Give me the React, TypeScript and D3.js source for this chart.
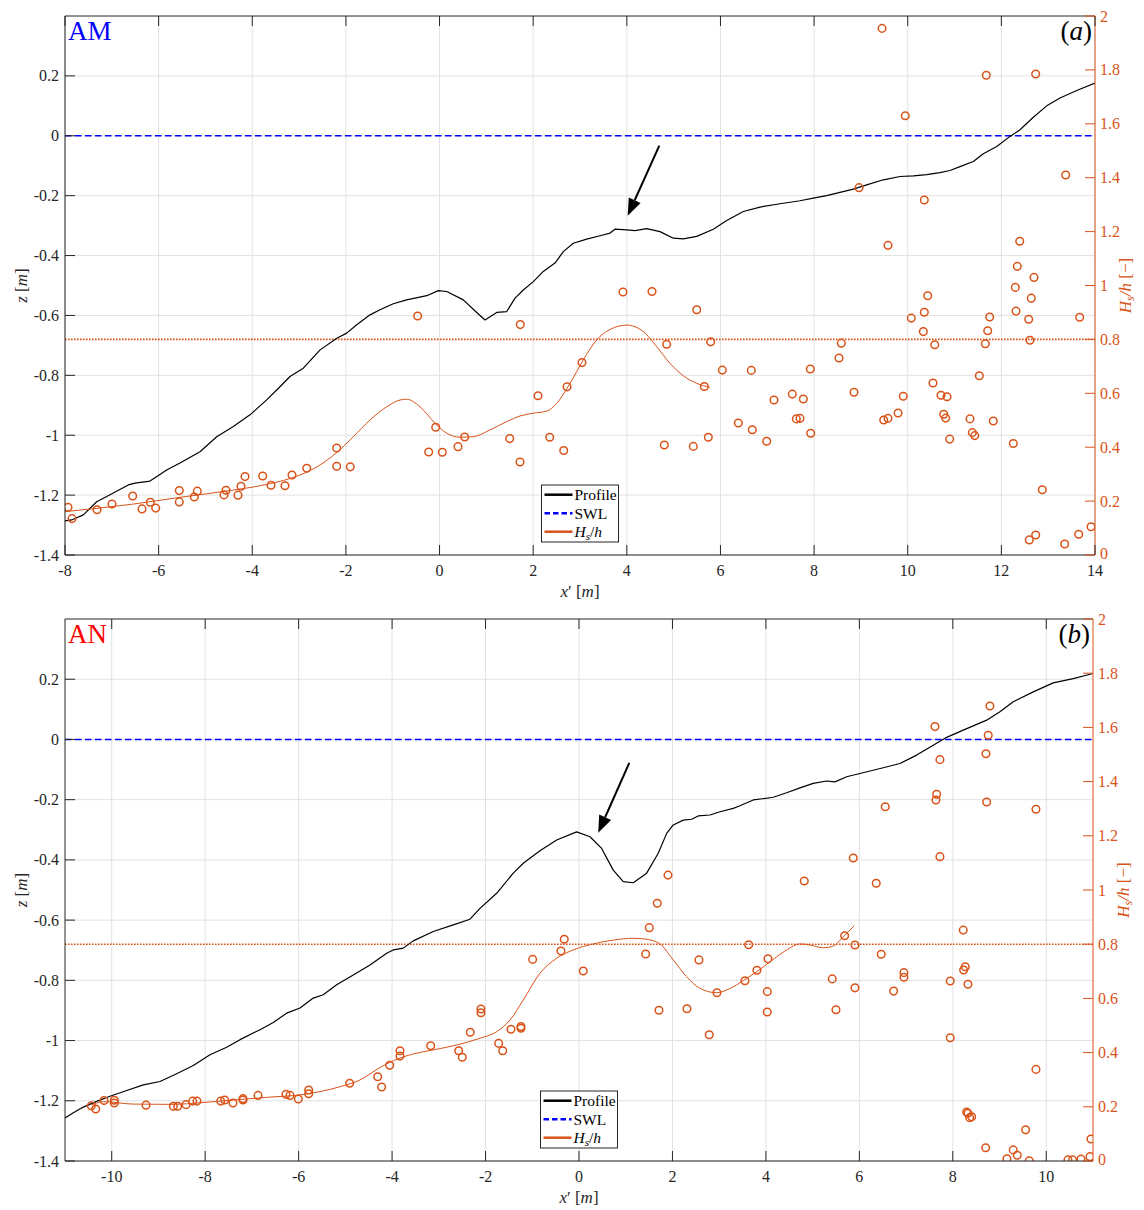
import React from "react";
import * as d3 from "d3";

type P = [number, number];

// ---------- Panel (a): AM ----------
const amProfile: P[] = [
  [-8, -1.286], [-7.857, -1.283], [-7.609, -1.266], [-7.323, -1.222], [-7.039, -1.199], [-6.648, -1.166],
  [-6.505, -1.16], [-6.184, -1.153], [-5.828, -1.116], [-5.544, -1.093], [-5.116, -1.055], [-4.76, -1.005],
  [-4.405, -0.971], [-4.049, -0.932], [-3.692, -0.882], [-3.408, -0.838], [-3.194, -0.804], [-2.91, -0.776],
  [-2.551, -0.715], [-2.195, -0.676], [-1.983, -0.659], [-1.769, -0.631], [-1.485, -0.598], [-1.272, -0.581],
  [-0.988, -0.561], [-0.702, -0.548], [-0.274, -0.534], [-0.026, -0.517], [0.153, -0.52], [0.508, -0.548],
  [0.794, -0.59], [0.971, -0.615], [1.221, -0.59], [1.435, -0.587], [1.612, -0.542], [1.789, -0.515],
  [2.003, -0.487], [2.216, -0.453], [2.466, -0.425], [2.643, -0.387], [2.857, -0.359], [3.143, -0.345],
  [3.427, -0.334], [3.641, -0.325], [3.748, -0.312], [3.998, -0.314], [4.175, -0.317], [4.425, -0.31],
  [4.709, -0.32], [4.993, -0.342], [5.207, -0.344], [5.493, -0.336], [5.847, -0.312], [6.134, -0.283],
  [6.488, -0.253], [6.845, -0.238], [7.272, -0.227], [7.699, -0.217], [7.983, -0.208], [8.269, -0.2],
  [8.553, -0.189], [8.837, -0.178], [9.124, -0.164], [9.478, -0.147], [9.835, -0.136], [10.119, -0.134],
  [10.405, -0.13], [10.689, -0.123], [10.903, -0.116], [11.117, -0.103], [11.401, -0.086], [11.614, -0.06],
  [11.901, -0.036], [12.185, -0.002], [12.398, 0.02], [12.683, 0.062], [12.969, 0.1], [13.253, 0.126],
  [13.61, 0.151], [14.0, 0.176],
];

const amHsLine: P[] = [
  [-8, 0.161], [-6.541, 0.189], [-5.544, 0.214], [-4.405, 0.241], [-3.692, 0.262], [-2.98, 0.297],
  [-2.553, 0.334], [-2.197, 0.38], [-1.842, 0.439], [-1.485, 0.501], [-1.129, 0.55], [-0.845, 0.575],
  [-0.702, 0.578], [-0.417, 0.55], [-0.097, 0.489], [0.153, 0.452], [0.437, 0.437], [0.721, 0.439],
  [1.078, 0.464], [1.435, 0.495], [1.719, 0.516], [2.003, 0.526], [2.289, 0.534], [2.503, 0.563],
  [2.787, 0.637], [3.071, 0.724], [3.357, 0.798], [3.641, 0.837], [3.998, 0.853], [4.352, 0.829],
  [4.638, 0.773], [4.922, 0.711], [5.207, 0.665], [5.493, 0.637], [5.777, 0.622],
];

const amHsPoints: P[] = [
  [-7.936, 0.177], [-7.85, 0.135], [-7.316, 0.168], [-6.996, 0.189], [-6.554, 0.219], [-6.355, 0.171],
  [-6.178, 0.196], [-6.063, 0.174], [-5.559, 0.239], [-5.559, 0.197], [-5.238, 0.215], [-5.174, 0.237],
  [-4.604, 0.223], [-4.561, 0.24], [-4.305, 0.222], [-4.241, 0.255], [-4.155, 0.291], [-3.777, 0.293],
  [-3.6, 0.259], [-3.301, 0.257], [-3.151, 0.297], [-2.837, 0.322], [-2.197, 0.397], [-2.197, 0.329],
  [-1.906, 0.327], [-0.467, 0.887], [-0.232, 0.382], [-0.082, 0.474], [0.059, 0.381], [0.394, 0.402],
  [0.537, 0.438], [1.499, 0.432], [1.725, 0.855], [1.719, 0.345], [2.103, 0.591], [2.353, 0.437],
  [2.652, 0.388], [2.723, 0.624], [3.043, 0.714], [3.918, 0.976], [4.538, 0.978], [4.801, 0.408],
  [4.852, 0.782], [5.42, 0.403], [5.493, 0.91], [5.655, 0.625], [5.741, 0.437], [5.792, 0.791],
  [6.04, 0.686], [6.381, 0.49], [6.659, 0.685], [6.68, 0.465], [6.988, 0.422], [7.144, 0.575],
  [7.535, 0.597], [7.62, 0.505], [7.699, 0.507], [7.77, 0.579], [7.919, 0.69], [7.928, 0.452],
  [8.532, 0.731], [8.581, 0.786], [8.853, 0.604], [8.96, 1.363], [9.451, 1.954], [9.487, 0.501],
  [9.579, 0.507], [9.579, 1.149], [9.793, 0.527], [9.905, 0.589], [9.948, 1.63], [10.076, 0.879],
  [10.354, 0.901], [10.333, 0.829], [10.354, 1.317], [10.427, 0.962], [10.54, 0.638], [10.577, 0.78],
  [10.711, 0.593], [10.769, 0.522], [10.811, 0.508], [10.839, 0.587], [10.897, 0.43], [11.33, 0.505],
  [11.38, 0.454], [11.431, 0.443], [11.529, 0.665], [11.657, 0.784], [11.678, 1.78], [11.708, 0.832],
  [11.751, 0.883], [11.828, 0.497], [12.255, 0.414], [12.298, 0.993], [12.313, 0.905], [12.341, 1.071],
  [12.392, 1.164], [12.584, 0.875], [12.611, 0.797], [12.639, 0.953], [12.697, 1.03], [12.733, 1.785],
  [12.597, 0.056], [12.733, 0.074], [12.874, 0.242], [13.353, 0.041], [13.374, 1.41], [13.652, 0.077],
  [13.673, 0.882], [13.915, 0.105],
];

const amArrow: P[] = [[4.694, -0.033], [4.019, -0.267]];

// ---------- Panel (b): AN ----------
const anProfile: P[] = [
  [-11, -1.257], [-10.822, -1.24], [-10.608, -1.221], [-10.322, -1.202], [-10.037, -1.185], [-9.68, -1.166],
  [-9.324, -1.147], [-8.967, -1.136], [-8.61, -1.11], [-8.254, -1.083], [-7.897, -1.047], [-7.54, -1.022],
  [-7.255, -0.997], [-6.827, -0.964], [-6.543, -0.94], [-6.256, -0.909], [-5.971, -0.892], [-5.687, -0.859],
  [-5.473, -0.848], [-5.186, -0.815], [-4.831, -0.782], [-4.473, -0.749], [-4.116, -0.71], [-3.975, -0.699],
  [-3.761, -0.693], [-3.547, -0.669], [-3.119, -0.638], [-2.69, -0.616], [-2.333, -0.597], [-2.119, -0.561],
  [-1.762, -0.511], [-1.407, -0.444], [-1.193, -0.411], [-0.835, -0.37], [-0.478, -0.334], [-0.05, -0.307],
  [0.235, -0.323], [0.485, -0.362], [0.733, -0.434], [0.947, -0.472], [1.161, -0.476], [1.448, -0.444],
  [1.696, -0.378], [1.876, -0.312], [2.017, -0.284], [2.231, -0.268], [2.411, -0.265], [2.552, -0.254],
  [2.803, -0.251], [3.017, -0.24], [3.301, -0.229], [3.445, -0.22], [3.729, -0.201], [4.157, -0.192],
  [4.444, -0.177], [4.728, -0.161], [5.013, -0.146], [5.3, -0.138], [5.477, -0.141], [5.728, -0.124],
  [6.012, -0.113], [6.511, -0.094], [6.868, -0.08], [7.226, -0.052], [7.581, -0.019], [7.868, 0.007],
  [8.223, 0.031], [8.724, 0.064], [9.008, 0.092], [9.293, 0.125], [9.721, 0.158], [10.149, 0.188],
  [10.577, 0.202], [11.0, 0.219],
];

const anHsLine: P[] = [
  [-10.429, 0.207], [-10.18, 0.219], [-9.538, 0.21], [-8.682, 0.209], [-8.111, 0.215], [-7.398, 0.225],
  [-6.684, 0.235], [-5.971, 0.244], [-5.543, 0.256], [-5.115, 0.274], [-4.687, 0.299], [-4.259, 0.345],
  [-3.975, 0.37], [-3.547, 0.395], [-3.119, 0.41], [-2.618, 0.428], [-2.119, 0.453], [-1.762, 0.477],
  [-1.477, 0.52], [-1.193, 0.594], [-0.835, 0.693], [-0.478, 0.748], [-0.122, 0.779], [0.305, 0.801],
  [0.733, 0.815], [1.161, 0.822], [1.448, 0.818], [1.733, 0.801], [2.017, 0.742], [2.304, 0.68],
  [2.589, 0.637], [2.946, 0.621], [3.301, 0.643], [3.588, 0.674], [3.873, 0.707], [4.157, 0.744],
  [4.444, 0.779], [4.728, 0.801], [4.943, 0.797], [5.227, 0.787], [5.441, 0.793], [5.655, 0.828],
  [5.891, 0.868],
];

const anHsPoints: P[] = [
  [-10.437, 0.204], [-10.343, 0.192], [-10.165, 0.223], [-9.945, 0.224], [-9.945, 0.214], [-9.267, 0.206],
  [-8.682, 0.202], [-8.588, 0.202], [-8.411, 0.208], [-8.267, 0.221], [-8.175, 0.221], [-7.668, 0.221],
  [-7.582, 0.225], [-7.405, 0.214], [-7.191, 0.23], [-7.191, 0.225], [-6.87, 0.242], [-6.271, 0.246],
  [-6.185, 0.242], [-6.007, 0.229], [-5.785, 0.262], [-5.785, 0.248], [-4.908, 0.287], [-4.308, 0.311],
  [-4.223, 0.273], [-4.052, 0.353], [-3.831, 0.407], [-3.831, 0.387], [-3.174, 0.425], [-2.575, 0.407],
  [-2.498, 0.383], [-2.327, 0.475], [-2.098, 0.561], [-2.098, 0.547], [-1.719, 0.434], [-1.633, 0.407],
  [-1.456, 0.486], [-1.242, 0.496], [-1.242, 0.49], [-0.992, 0.744], [-0.386, 0.775], [-0.315, 0.818],
  [0.091, 0.701], [1.427, 0.764], [1.504, 0.861], [1.675, 0.951], [1.711, 0.556], [1.904, 1.055],
  [2.31, 0.562], [2.567, 0.742], [2.788, 0.466], [2.952, 0.621], [3.552, 0.665], [3.631, 0.798],
  [3.808, 0.704], [4.029, 0.625], [4.029, 0.55], [4.044, 0.746], [4.821, 1.033], [5.42, 0.672],
  [5.499, 0.558], [5.685, 0.831], [5.869, 1.118], [5.906, 0.797], [5.906, 0.639], [6.361, 1.025],
  [6.468, 0.763], [6.554, 1.307], [6.734, 0.627], [6.954, 0.695], [6.954, 0.678], [7.618, 1.603],
  [7.724, 1.481], [7.654, 1.353], [7.639, 1.332], [7.724, 1.123], [7.945, 0.664], [7.945, 0.455],
  [8.223, 0.852], [8.266, 0.717], [8.232, 0.705], [8.324, 0.652], [8.296, 0.181], [8.324, 0.176],
  [8.36, 0.16], [8.403, 0.163], [8.709, 1.503], [8.758, 1.571], [8.794, 1.679], [8.724, 1.325],
  [8.703, 0.049], [9.158, 0.008], [9.293, 0.041], [9.379, 0.021], [9.558, 0.115], [9.636, 0.001],
  [9.779, 0.338], [9.779, 1.298], [10.464, 0.004], [10.564, 0.004], [10.742, 0.007], [10.935, 0.016],
  [10.956, 0.081],
];

const anArrow: P[] = [[1.076, -0.078], [0.412, -0.31]];

// ---------- Axes / labels ----------
const amXDomain: P = [-8, 14];
const anXDomain: P = [-11, 11];
const amXTicks = [-8, -6, -4, -2, 0, 2, 4, 6, 8, 10, 12, 14];
const anXTicks = [-10, -8, -6, -4, -2, 0, 2, 4, 6, 8, 10];
const zDomain: P = [-1.4, 0.4];
const zTicks = [-1.4, -1.2, -1, -0.8, -0.6, -0.4, -0.2, 0, 0.2];
const hsDomain: P = [0, 2];
const hsTicks = [0, 0.2, 0.4, 0.6, 0.8, 1, 1.2, 1.4, 1.6, 1.8, 2];
const swlLevel = 0;
const hsThreshold = 0.8;
const legendLabels = ["Profile", "SWL", "Hs/h"];

const ORANGE = "#D95319";
const AXIS = "#262626";
const GRID = "#e2e2e2";
const FONT = "'Liberation Serif', 'Times New Roman', serif";
const TICK_FS = 16;

const fmt = (v: number) => String(+v.toFixed(2));

type PanelProps = {
  left: number; right: number; top: number; bottom: number;
  xDomain: P; xTicks: number[];
  profile: P[]; hsLine: P[]; hsPoints: P[]; arrow: P[];
  tag: string; tagColor: string; letter: string; id: string;
};

function Panel(p: PanelProps) {
  const { left, right, top, bottom } = p;
  const x = d3.scaleLinear().domain(p.xDomain).range([left, right]);
  const yz = d3.scaleLinear().domain(zDomain).range([bottom, top]);
  const yh = d3.scaleLinear().domain(hsDomain).range([bottom, top]);
  const profPath = d3.line<P>().x((d) => x(d[0])).y((d) => yz(d[1]))(p.profile) || "";
  const hsPath =
    d3.line<P>().x((d) => x(d[0])).y((d) => yh(d[1])).curve(d3.curveMonotoneX)(p.hsLine) || "";
  const TL = 10;

  // arrow
  const ax0 = x(p.arrow[0][0]), ay0 = yz(p.arrow[0][1]);
  const ax1 = x(p.arrow[1][0]), ay1 = yz(p.arrow[1][1]);
  const ang = Math.atan2(ay1 - ay0, ax1 - ax0);
  const hl = 17, hw = 6.5;
  const bx = ax1 - hl * Math.cos(ang), by = ay1 - hl * Math.sin(ang);
  const head = [
    [ax1, ay1],
    [bx + hw * Math.sin(ang), by - hw * Math.cos(ang)],
    [bx - hw * Math.sin(ang), by + hw * Math.cos(ang)],
  ].map((q) => q.join(",")).join(" ");

  const legW = 77, legH = 57;
  const legX = (left + right) / 2 - legW / 2;
  const legY = bottom - 13 - legH;
  const midY = (top + bottom) / 2;
  const midX = (left + right) / 2;

  return (
    <g>
      <defs>
        <clipPath id={p.id}>
          <rect x={left} y={top} width={right - left} height={bottom - top} />
        </clipPath>
      </defs>
      {/* grid */}
      {p.xTicks.map((t) => (
        <line key={"gx" + t} x1={x(t)} x2={x(t)} y1={top} y2={bottom} stroke={GRID} strokeWidth={1} />
      ))}
      {zTicks.map((t) => (
        <line key={"gy" + t} x1={left} x2={right} y1={yz(t)} y2={yz(t)} stroke={GRID} strokeWidth={1} />
      ))}
      <g clipPath={`url(#${p.id})`}>
        <line x1={left} x2={right} y1={yh(hsThreshold)} y2={yh(hsThreshold)} stroke={ORANGE}
          strokeWidth={1.6} strokeDasharray="1.6,1.4" />
        <line x1={left} x2={right} y1={yz(swlLevel)} y2={yz(swlLevel)} stroke="#0000ff"
          strokeWidth={1.5} strokeDasharray="6.5,3.5" />
        <path d={profPath} fill="none" stroke="#000" strokeWidth={1.2} strokeLinejoin="round" />
        <path d={hsPath} fill="none" stroke={ORANGE} strokeWidth={1} />
        {p.hsPoints.map((d, i) => (
          <circle key={i} cx={x(d[0])} cy={yh(d[1])} r={3.8} fill="none" stroke={ORANGE} strokeWidth={1.5} />
        ))}
      </g>
      {/* arrow */}
      <line x1={ax0} y1={ay0} x2={bx} y2={by} stroke="#000" strokeWidth={2} />
      <polygon points={head} fill="#000" />
      {/* axes box */}
      <line x1={left} x2={right} y1={bottom} y2={bottom} stroke={AXIS} strokeWidth={1} />
      <line x1={left} x2={right} y1={top} y2={top} stroke={AXIS} strokeWidth={1} />
      <line x1={left} x2={left} y1={top} y2={bottom} stroke={AXIS} strokeWidth={1} />
      <line x1={right} x2={right} y1={top} y2={bottom} stroke={ORANGE} strokeWidth={1} />
      {p.xTicks.map((t) => (
        <g key={"xt" + t}>
          <line x1={x(t)} x2={x(t)} y1={bottom} y2={bottom - TL} stroke={AXIS} />
          <line x1={x(t)} x2={x(t)} y1={top} y2={top + TL} stroke={AXIS} />
          <text x={x(t)} y={bottom + 15.5} textAnchor="middle" dominantBaseline="central"
            fontFamily={FONT} fontSize={TICK_FS} fill={AXIS}>{fmt(t)}</text>
        </g>
      ))}
      {zTicks.map((t) => (
        <g key={"zt" + t}>
          <line x1={left} x2={left + TL} y1={yz(t)} y2={yz(t)} stroke={AXIS} />
          <text x={left - 6} y={yz(t)} textAnchor="end" dominantBaseline="central"
            fontFamily={FONT} fontSize={TICK_FS} fill={AXIS}>{fmt(t)}</text>
        </g>
      ))}
      {hsTicks.map((t) => (
        <g key={"ht" + t}>
          <line x1={right} x2={right - TL} y1={yh(t)} y2={yh(t)} stroke={ORANGE} />
          <text x={right + 5} y={yh(t) - (t === 0 ? 1.5 : 0)} textAnchor="start" dominantBaseline="central"
            fontFamily={FONT} fontSize={TICK_FS} fill={ORANGE}>{fmt(t)}</text>
        </g>
      ))}
      {/* axis labels */}
      <text x={midX} y={bottom + 36} textAnchor="middle" dominantBaseline="central" fontFamily={FONT}
        fontSize={17} fill={AXIS}>
        <tspan fontStyle="italic">x</tspan>′ [<tspan fontStyle="italic">m</tspan>]
      </text>
      <text transform={`translate(21,${midY}) rotate(-90)`} textAnchor="middle" dominantBaseline="central"
        fontFamily={FONT} fontSize={17} fill={AXIS}>
        <tspan fontStyle="italic">z</tspan> [<tspan fontStyle="italic">m</tspan>]
      </text>
      <text transform={`translate(${right + 36},${midY}) rotate(-90)`} textAnchor="middle"
        fontFamily={FONT} fontSize={17} fill={ORANGE}>
        <tspan fontStyle="italic">H</tspan>
        <tspan fontStyle="italic" fontSize={12} dy={3}>s</tspan>
        <tspan fontStyle="italic" dy={-3}>/h</tspan> [−]
      </text>
      {/* panel tags */}
      <text x={left + 3} y={top + 23.5} fontFamily={FONT} fontSize={27} fill={p.tagColor}>{p.tag}</text>
      <text x={right - 3} y={top + 24} textAnchor="end" fontFamily={FONT} fontSize={27} fill="#000">
        (<tspan fontStyle="italic">{p.letter}</tspan>)
      </text>
      {/* legend */}
      <g>
        <rect x={legX} y={legY} width={legW} height={legH} fill="#fff" stroke={AXIS} strokeWidth={1} />
        {legendLabels.map((lab, i) => {
          const yy = legY + 9.7 + i * 18.5;
          const col = i === 0 ? "#000" : i === 1 ? "#0000ff" : ORANGE;
          return (
            <g key={lab}>
              <line x1={legX + 3} x2={legX + 31} y1={yy} y2={yy} stroke={col} strokeWidth={2.5}
                strokeDasharray={i === 1 ? "5.5,3" : undefined} />
              {i < 2 ? (
                <text x={legX + 33} y={yy} dominantBaseline="central" fontFamily={FONT} fontSize={15.5}
                  fill="#000">{lab}</text>
              ) : (
                <text x={legX + 33} y={yy + 5} fontFamily={FONT} fontSize={15.5} fill="#000">
                  <tspan fontStyle="italic">H</tspan>
                  <tspan fontStyle="italic" fontSize={11} dy={3}>s</tspan>
                  <tspan dy={-3}>/</tspan>
                  <tspan fontStyle="italic">h</tspan>
                </text>
              )}
            </g>
          );
        })}
      </g>
    </g>
  );
}

export default function App() {
  return (
    <svg width={1144} height={1210} style={{ display: "block", position: "absolute", left: 0, top: 0 }}
      fontFamily={FONT}>
      <rect width={1144} height={1210} fill="#fff" />
      <Panel left={65} right={1095} top={16} bottom={555} xDomain={amXDomain} xTicks={amXTicks}
        profile={amProfile} hsLine={amHsLine} hsPoints={amHsPoints} arrow={amArrow}
        tag="AM" tagColor="#0000ff" letter="a" id="clipA" />
      <Panel left={65} right={1093} top={619} bottom={1161} xDomain={anXDomain} xTicks={anXTicks}
        profile={anProfile} hsLine={anHsLine} hsPoints={anHsPoints} arrow={anArrow}
        tag="AN" tagColor="#ff0000" letter="b" id="clipB" />
    </svg>
  );
}
